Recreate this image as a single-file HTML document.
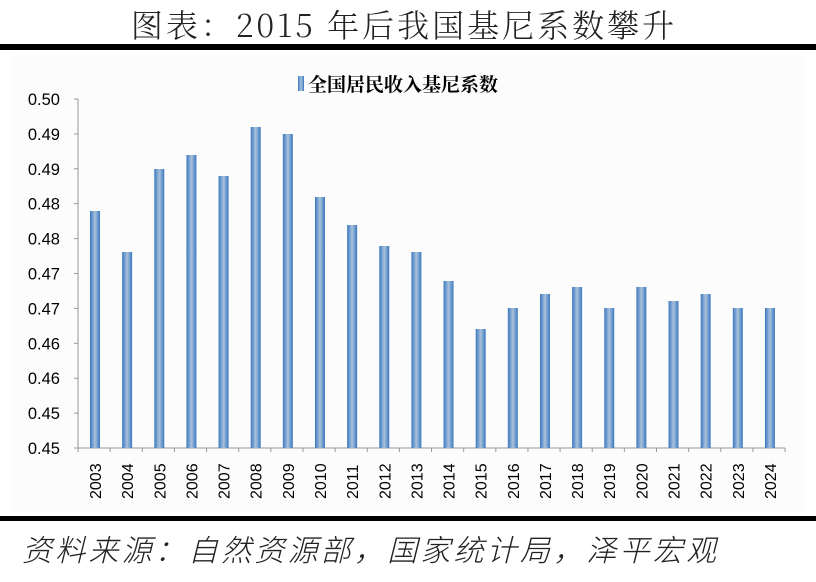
<!DOCTYPE html>
<html><head><meta charset="utf-8"><style>
html,body{margin:0;padding:0;background:#fff;width:816px;height:582px;overflow:hidden}
</style></head><body>
<svg id="s" width="816" height="582" xmlns="http://www.w3.org/2000/svg">
<defs><linearGradient id="g" x1="0" x2="1" y1="0" y2="0">
<stop offset="0" stop-color="#3a78c0"/><stop offset="0.5" stop-color="#a9c2dc"/><stop offset="1" stop-color="#3a78c0"/></linearGradient></defs>
<text x="404" y="37" text-anchor="middle" font-family="'Noto Serif CJK SC',serif" font-weight="300" font-size="32" letter-spacing="3" fill="#222">图表：2015 年后我国基尼系数攀升</text>
<rect x="0" y="44" width="816" height="6" fill="#000"/>
<rect x="12" y="55" width="792" height="457" fill="#fcfcfc"/>
<rect x="298" y="76" width="6" height="15" fill="url(#g)"/>
<text x="308" y="91" font-family="'Noto Serif CJK SC',serif" font-weight="bold" font-size="19" fill="#000">全国居民收入基尼系数</text>
<g id="ax"></g>
<rect x="0" y="516" width="816" height="5" fill="#000"/>
<text x="22" y="561" font-family="'Noto Sans CJK SC',sans-serif" font-style="italic" font-weight="300" font-size="30" letter-spacing="3.2" fill="#222">资料来源：自然资源部，国家统计局，泽平宏观</text>
</svg>
<script>
var ax=document.getElementById('ax'),h='';
var labs=['0.50','0.49','0.49','0.48','0.48','0.47','0.47','0.46','0.46','0.45','0.45'];
for(var i=0;i<11;i++){var y=99+i*34.9;h+='<text x="60" y="'+(y+6)+'" text-anchor="end" font-family="Liberation Sans,sans-serif" font-size="16.5" fill="#000">'+labs[i]+'</text><line x1="74" x2="78" y1="'+y+'" y2="'+y+'" stroke="#999"/>';}
h+='<line x1="78" x2="78" y1="99" y2="452" stroke="#999"/><line x1="74" x2="785" y1="448" y2="448" stroke="#999"/>';
var tops=[211,252,169,155,176,127,134,197,225,246,252,281,329,308,294,287,308,287,301,294,308,308];
for(var k=0;k<22;k++){var c=95+k*32.14;
h+='<rect x="'+(c-5)+'" y="'+tops[k]+'" width="10" height="'+(448-tops[k])+'" fill="url(#g)"/>';
h+='<line x1="'+(78+k*32.14+32.14)+'" x2="'+(78+k*32.14+32.14)+'" y1="448" y2="452" stroke="#999"/>';
h+='<text transform="translate('+(c+6)+',499) rotate(-90)" font-family="Liberation Sans,sans-serif" font-size="16" fill="#000">'+(2003+k)+'</text>';}
ax.innerHTML=h;
</script>
</body></html>
